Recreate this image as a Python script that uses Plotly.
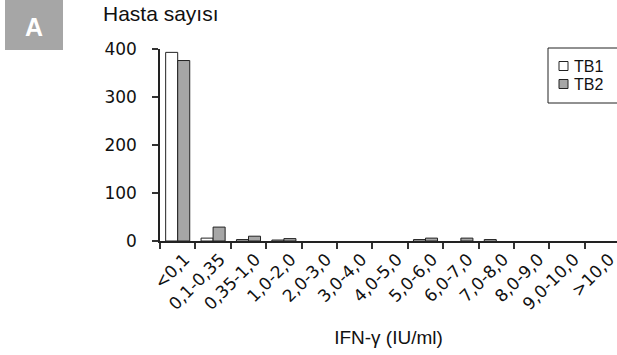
import plotly.graph_objects as go

categories = ["<0,1", "0,1-0,35", "0,35-1,0", "1,0-2,0", "2,0-3,0", "3,0-4,0",
              "4,0-5,0", "5,0-6,0", "6,0-7,0", "7,0-8,0", "8,0-9,0", "9,0-10,0", ">10,0"]
tb1 = [393, 6, 3, 2, 0, 0, 0, 3, 0, 3, 0, 0, 0]
tb2 = [376, 29, 10, 5, 0, 0, 0, 6, 6, 0, 0, 0, 0]
series_names = ["TB1", "TB2"]
series_colors = ["white", "#a6a6a6"]
y_ticks = [0, 100, 200, 300, 400]

W, H = 617, 355
L, R, T, B = 160, 0, 49, 114
PW, PH = W - L - R, H - T - B


def px(x):
    return (x - L) / PW


def py(y):
    return (H - B - y) / PH


def nz(vals):
    return [v if v > 0 else None for v in vals]


fig = go.Figure()
for name, vals, col in zip(series_names, [tb1, tb2], series_colors):
    fig.add_trace(go.Bar(x=categories, y=nz(vals), name=name, showlegend=False,
                         marker=dict(color=col, line=dict(color="#222", width=1))))

tickfont = dict(family="DejaVu Sans", size=17, color="#111")
fig.update_layout(
    width=W, height=H,
    margin=dict(l=L, r=R, t=T, b=B, autoexpand=False),
    paper_bgcolor="white", plot_bgcolor="white",
    barmode="group", bargap=0.32, bargroupgap=0,
    showlegend=False,
    xaxis=dict(type="category", range=[-0.5, 12.41], showline=True, linecolor="#222", linewidth=1.5,
               ticks="outside", ticklen=6, tickcolor="#333", tickwidth=1.5, tickson="boundaries",
               tickangle=-45, tickfont=tickfont, ticklabelshift=7, showgrid=False, zeroline=False,
               title=dict(text="IFN-γ (IU/ml)", font=dict(family="Liberation Sans, Arial", size=19, color="#111"),
                          standoff=18)),
    yaxis=dict(range=[0, 400], tickvals=y_ticks, showline=True, linecolor="#222", linewidth=1.5,
               ticks="outside", ticklen=6, tickcolor="#333", tickwidth=1.5,
               tickfont=dict(family="DejaVu Sans", size=17, color="#111"), ticklabelstandoff=12,
               showgrid=False, zeroline=False),
)

# panel letter box
fig.add_shape(type="rect", xref="paper", yref="paper",
              x0=px(5), x1=px(63), y0=py(50), y1=py(0),
              fillcolor="#a6a6a6", line=dict(width=0), layer="above",
              label=dict(text="<b>A</b>", font=dict(family="Liberation Sans, Arial", size=25, color="white"),
                         textposition="middle center"))
fig.add_annotation(text="Hasta sayısı", xref="paper", yref="paper",
                   x=px(101), y=py(14), xanchor="left", yanchor="middle",
                   showarrow=False, font=dict(family="Liberation Sans, Arial", size=21, color="#111"))

# legend (drawn manually to match the boxed layout)
fig.add_shape(type="rect", xref="paper", yref="paper",
              x0=px(548), x1=px(625), y0=py(103), y1=py(48),
              fillcolor="white", line=dict(color="#222", width=1), layer="above")
for i, (name, col) in enumerate(zip(series_names, series_colors)):
    yc = 66 + 18 * i
    fig.add_shape(type="rect", xref="paper", yref="paper",
                  x0=px(559), x1=px(568), y0=py(yc + 4.5), y1=py(yc - 4.5),
                  fillcolor=col, line=dict(color="#222", width=1), layer="above")
    fig.add_annotation(text=name, xref="paper", yref="paper", x=px(572), y=py(yc),
                       xanchor="left", yanchor="middle", showarrow=False,
                       font=dict(family="Liberation Sans Narrow, Liberation Sans, Arial", size=16, color="#111"))

fig.write_html("out.html")
